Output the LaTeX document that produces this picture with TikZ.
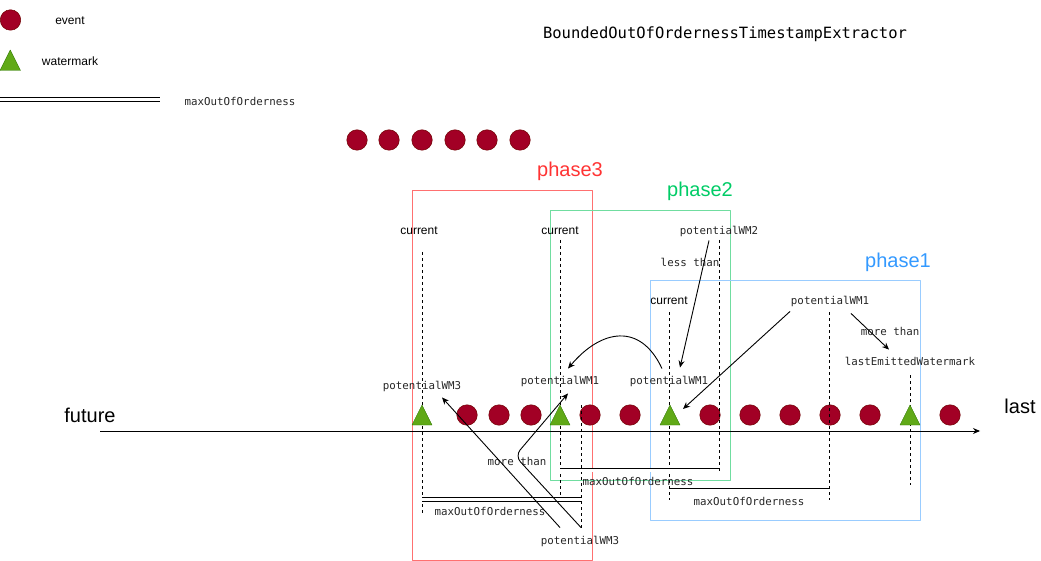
\documentclass[tikz,border=0pt]{standalone}
\usepackage{fontspec}
\setmainfont{Liberation Sans}
\newfontfamily\codefont{DejaVu Sans Mono}
\usetikzlibrary{arrows.meta}
\definecolor{evred}{HTML}{A20025}
\definecolor{evedge}{HTML}{6F0000}
\definecolor{wmgreen}{HTML}{60A917}
\definecolor{wmedge}{HTML}{2D7600}
\definecolor{redbox}{HTML}{FF7070}
\definecolor{redtext}{HTML}{FF3333}
\definecolor{greenbox}{HTML}{70DDA0}
\definecolor{greentext}{HTML}{00CC66}
\definecolor{bluebox}{HTML}{99CCFF}
\definecolor{bluetext}{HTML}{3399FF}
\tikzset{
  every picture/.style={
    line join=round,
    >={Stealth[length=7pt, width=6pt]},   % one arrow tip everywhere
  },
  event/.style={circle, fill=evred, draw=evedge, line width=0.5pt, minimum size=20.5pt, inner sep=0pt},
  wmark/.style={fill=wmgreen, draw=wmedge, line width=0.3pt},
  code/.style={font=\codefont\fontsize{10.8}{12}\selectfont, text=black!85, inner sep=1pt},
  plain/.style={font=\fontsize{12}{14}\selectfont, inner sep=1pt},
  big/.style={font=\fontsize{20}{24}\selectfont, inner sep=1pt},
  guide/.style={dash pattern=on 3pt off 3pt, line width=0.9pt},
  arr/.style={->, line width=0.9pt},
  bound/.style={double, double distance=3pt, line width=0.9pt},
  phasebox/.style={line width=0.9pt},
}

\begin{document}
\begin{tikzpicture}[x=1pt, y=-1pt]
    \useasboundingbox (0,0) rectangle (1041,561);

    % Legend
    \node[event] (lg-ev) at (10.5,20) {};
    \node[plain] (lg-evtext) at (70,20.5) {event};
    \draw[wmark] (0,70.5) -- (20.5,70.5) -- (10.25,50) -- cycle;
    \node[plain] (lg-wmtext) at (70,61) {watermark};
    \draw[bound] (0,99.7) -- (160,99.7);
    \node[code] (lg-bound) at (240,101) {maxOutOfOrderness};

    % Title
    \node[font=\codefont\fontsize{15.5}{17}\selectfont, inner sep=1pt] (title) at (725,34) {BoundedOutOfOrdernessTimestampExtractor};

    % Events still to come
    \foreach \x [count=\i] in {357,389,422,455,487,520} {
        \node[event] (wait-\i) at (\x,140) {};
    }

    % Phase boxes
    \draw[phasebox, redbox] (412,190) rectangle (592,560);
    \node[big, text=redtext] (ph3) at (570,171) {phase3};
    \draw[phasebox, greenbox] (550,210) rectangle (730,480);
    \node[big, text=greentext] (ph2) at (700,191) {phase2};
    \draw[phasebox, bluebox] (650,280) rectangle (920,520);
    \node[big, text=bluetext] (ph1) at (898,262) {phase1};

    % Time axis
    \draw[->, line width=0.9pt] (100,431) -- (980,431);
    \node[big] (future) at (90,415) {future};
    \node[big] (last) at (1020,406) {last};

    % Events on the axis
    \foreach \x [count=\i] in {467,499,531,590,630,710,750,790,830,870,950} {
        \node[event] (ev-\i) at (\x,415) {};
    }

    % Guide lines
    \draw[guide] (422,252) -- (422,515);
    \draw[guide] (560,240) -- (560,500);
    \draw[guide] (581,405) -- (581,530);
    \draw[guide] (669,312) -- (669,500);
    \draw[guide] (719,240) -- (719,473);
    \draw[guide] (829,312) -- (829,500);
    \draw[guide] (910,375) -- (910,485);

    % Watermarks on the axis
    \foreach \x [count=\i] in {422,560,670,910} {
        \draw[wmark] (\x-10,425) -- (\x+10,425) -- (\x,405) -- cycle;
        \coordinate (wm-\i) at (\x,415);
    }

    % maxOutOfOrderness spans
    \draw[bound] (422,499.5) -- (581,499.5);
    \node[code] (mo3) at (490,511) {maxOutOfOrderness};
    \draw[bound] (560,470) -- (719,470);
    \node[code] (mo2) at (638,481) {maxOutOfOrderness};
    \draw[bound] (669,490) -- (829,490);
    \node[code] (mo1) at (749,501) {maxOutOfOrderness};

    % Labels
    \node[plain] (cur3) at (419,231) {current};
    \node[plain] (cur2) at (560,231) {current};
    \node[plain] (cur1) at (669,301) {current};
    \node[code] (wm2) at (719,231) {potentialWM2};
    \node[code] (less) at (690,262) {less than};
    \node[code] (wm1a) at (830,301) {potentialWM1};
    \node[code] (more1) at (890,331) {more than};
    \node[code] (lew) at (910,361) {lastEmittedWatermark};
    \node[code] (wm1b) at (669,381) {potentialWM1};
    \node[code] (wm1c) at (560,381) {potentialWM1};
    \node[code] (wm3a) at (422,386) {potentialWM3};
    \node[code] (more3) at (517,461) {more than};
    \node[code] (wm3b) at (580,541) {potentialWM3};
    \coordinate (bend) at (515,456);

    % Arrows
    \draw[arr] ([xshift=-10pt,yshift=-3pt]wm2.south) -- ([xshift=11pt,yshift=7pt]wm1b.north);
    \draw[arr] ([xshift=-40pt,yshift=-4pt]wm1a.south) -- ([xshift=13pt,yshift=6pt]wm-3);
    \draw[arr] ([xshift=21pt,yshift=-6pt]wm1a.south) -- ([xshift=-21pt,yshift=6pt]lew.north);
    \draw[arr] ([xshift=-7pt,yshift=6pt]wm1b.north) to[out=115, in=50, looseness=1.4] ([xshift=8pt,yshift=6pt]wm1c.north);
    \draw[arr] ([xshift=-20pt,yshift=7pt]wm3b.north) -- ([xshift=20pt,yshift=-5pt]wm3a.south);
    \draw[arr, rounded corners=8pt] ([xshift=1pt,yshift=7pt]wm3b.north) -- (bend) -- ([xshift=8pt,yshift=-6pt]wm1c.south);
\end{tikzpicture}
\end{document}
